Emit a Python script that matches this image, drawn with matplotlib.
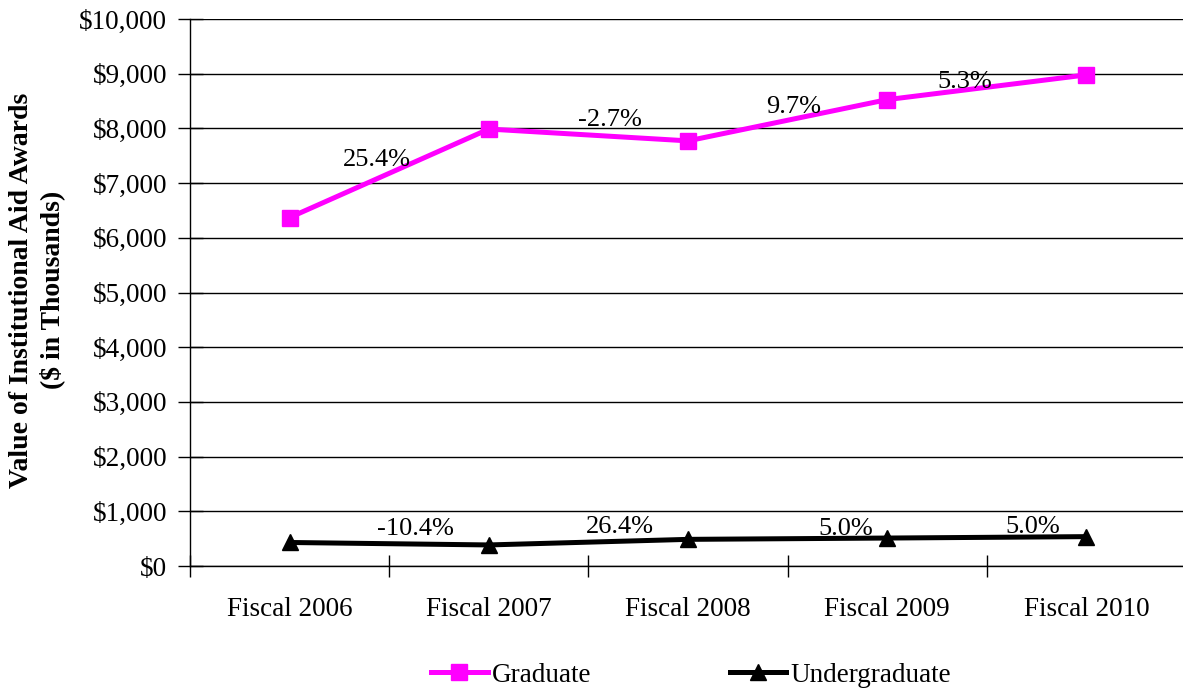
import matplotlib
matplotlib.use("Agg")
import matplotlib.pyplot as plt
from matplotlib.ticker import FuncFormatter, FixedLocator

plt.rcParams['font.family'] = ['Liberation Serif', 'DejaVu Serif']

categories = ["Fiscal 2006", "Fiscal 2007", "Fiscal 2008", "Fiscal 2009", "Fiscal 2010"]
graduate = [6370, 7988, 7772, 8526, 8978]
undergraduate = [430, 385, 487, 511, 537]
graduate_changes = ["25.4%", "-2.7%", "9.7%", "5.3%"]
undergraduate_changes = ["-10.4%", "26.4%", "5.0%", "5.0%"]

# label anchor points (category position, value) for the year-over-year changes
grad_label_pos = [(0.44, 7420), (1.61, 8160), (2.53, 8400), (3.39, 8840)]
ugrad_label_pos = [(0.63, 670), (1.66, 720), (2.79, 670), (3.73, 720)]

fig = plt.figure(figsize=(11.83, 6.91), dpi=100)
ax = fig.add_axes([190 / 1183, 1 - 566 / 691, 5 * 199.2 / 1183, 547 / 691])

x = list(range(len(categories)))
ax.plot(x, graduate, color="#FF00FF", lw=3.6, marker="s", ms=11.5,
        mec="#FF00FF", mfc="#FF00FF", label="Graduate", zorder=3)
ax.plot(x, undergraduate, color="black", lw=3.6, marker="^", ms=12,
        mec="black", mfc="black", label="Undergraduate", zorder=3)

for (px, py), txt in zip(grad_label_pos, graduate_changes):
    ax.text(px, py, txt, ha="center", va="center", fontsize=19, zorder=4)
for (px, py), txt in zip(ugrad_label_pos, undergraduate_changes):
    ax.text(px, py, txt, ha="center", va="center", fontsize=19, zorder=4)

ax.set_xlim(-0.5, len(categories) - 0.5)
ax.set_ylim(0, 10000)
ax.set_yticks(range(0, 10001, 1000))
ax.yaxis.set_major_formatter(FuncFormatter(lambda v, p: f"${v:,.0f}"))
ax.yaxis.grid(True, color="black", lw=1)
ax.set_axisbelow(True)

ax.xaxis.set_major_locator(FixedLocator([i - 0.5 for i in range(len(categories) + 1)]))
ax.xaxis.set_minor_locator(FixedLocator(x))
ax.set_xticklabels([], minor=False)
ax.set_xticklabels(categories, minor=True)
ax.tick_params(axis="x", which="major", direction="inout", length=16, width=1)
ax.tick_params(axis="x", which="minor", length=0, pad=22, labelsize=19.5)
ax.tick_params(axis="y", direction="inout", length=18, width=1, pad=7.5, labelsize=19.5)

for side in ("top", "right"):
    ax.spines[side].set_visible(False)
for side in ("left", "bottom"):
    ax.spines[side].set_color("black")
    ax.spines[side].set_linewidth(1)

fig.text(37 / 1183, 1 - 290 / 691,
         "Value of Institutional Aid Awards\n($ in Thousands)",
         rotation=90, ha="center", va="center", fontsize=20,
         fontweight="bold", linespacing=1.25)

fig.legend(loc="center", bbox_to_anchor=(691 / 1183, 1 - 675 / 691), ncol=2,
           frameon=False, fontsize=19.5, handlelength=2.1, handletextpad=0.15,
           columnspacing=5.1, markerscale=1.0)

fig.savefig("out.png", dpi=100)
